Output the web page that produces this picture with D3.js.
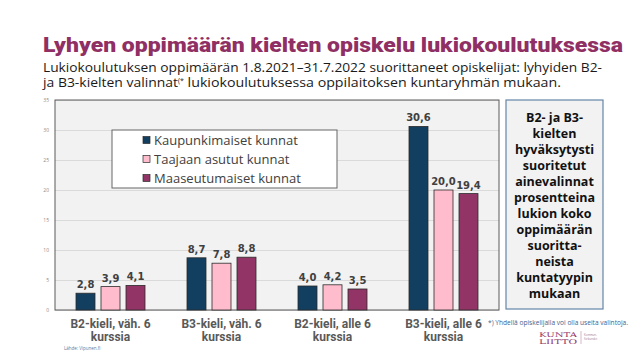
<!DOCTYPE html>
<html lang="fi">
<head>
<meta charset="UTF-8">
<title>Lyhyen oppimäärän kielten opiskelu</title>
<script src="https://d3js.org/d3.v7.min.js"></script>
<style>
  body { margin: 0; background: #fff; }
  svg { display: block; }
</style>
</head>
<body>
<div id="chart"></div>
<script>
// kategoriat ja sarjat
const categories = [["B2-kieli, väh. 6", "kurssia"], ["B3-kieli, väh. 6", "kurssia"], ["B2-kieli, alle 6", "kurssia"], ["B3-kieli, alle 6", "kurssia"]];
const seriesNames = ["Kaupunkimaiset kunnat", "Taajaan asutut kunnat", "Maaseutumaiset kunnat"];
const seriesColors = ["#123f60", "#ffbccd", "#933467"];
const kaupunki = [2.8, 8.7, 4.0, 30.6];
const taajama = [3.9, 7.8, 4.2, 20.0];
const maaseutu = [4.1, 8.8, 3.5, 19.4];
const yTicks = [0, 5, 10, 15, 20, 25, 30, 35];
const sideText = ["B2- ja B3-", "kielten", "hyväksytysti", "suoritetut", "ainevalinnat", "prosentteina", "lukion koko", "oppimäärän", "suoritta-", "neista", "kuntatyypin", "mukaan"];

const W = 643, H = 361;
const svg = d3.select("#chart").append("svg").attr("width", W).attr("height", H);

// otsikko
svg.append("text").attr("x", 43).attr("y", 52)
  .attr("textLength", 580).attr("lengthAdjust", "spacingAndGlyphs")
  .style("font-family", "Roboto, sans-serif").style("font-weight", 900)
  .style("font-size", "20px").style("fill", "#8f2f64")
  .text("Lyhyen oppimäärän kielten opiskelu lukiokoulutuksessa");

svg.append("text").attr("x", 43).attr("y", 72)
  .attr("textLength", 559).attr("lengthAdjust", "spacingAndGlyphs")
  .style("font-family", "'Open Sans', sans-serif").style("font-size", "12.5px").style("fill", "#1a1a1a")
  .text("Lukiokoulutuksen oppimäärän 1.8.2021–31.7.2022 suorittaneet opiskelijat: lyhyiden B2-");
const sub2 = svg.append("text").attr("x", 43).attr("y", 87)
  .style("font-family", "'Open Sans', sans-serif").style("font-size", "12.5px").style("fill", "#1a1a1a");
sub2.append("tspan").attr("textLength", 135).attr("lengthAdjust", "spacingAndGlyphs").text("ja B3-kielten valinnat");
sub2.append("tspan").attr("dy", -4).style("font-size", "7px").text("(*");
sub2.append("tspan").attr("dy", 4).attr("textLength", 377).attr("lengthAdjust", "spacingAndGlyphs")
  .text(" lukiokoulutuksessa oppilaitoksen kuntaryhmän mukaan.");

// kaavioalue
const plot = { left: 55, right: 499, top: 100, bottom: 310 };

const x0 = d3.scaleBand().domain(d3.range(categories.length)).range([plot.left, plot.right]);
const x1 = d3.scaleBand().domain(d3.range(seriesNames.length))
  .range([18, 93]).paddingInner(0.24).paddingOuter(0.12);
const y = d3.scaleLinear().domain([0, 35]).range([plot.bottom, plot.top]);

svg.append("rect").attr("x", plot.left).attr("y", plot.top)
  .attr("width", plot.right - plot.left).attr("height", plot.bottom - plot.top)
  .attr("fill", "#f2f2f2");

const yAxis = svg.append("g").attr("transform", `translate(${plot.left},0)`)
  .call(d3.axisLeft(y).tickValues(yTicks).tickSize(-(plot.right - plot.left)).tickPadding(6));
yAxis.select(".domain").remove();
yAxis.selectAll(".tick line").attr("stroke", "#dadada");
yAxis.selectAll(".tick text").style("font-family", "'Open Sans', sans-serif").style("font-size", "5px").attr("fill", "#8a8a8a");

svg.append("rect").attr("x", plot.left).attr("y", plot.top)
  .attr("width", plot.right - plot.left).attr("height", plot.bottom - plot.top)
  .attr("fill", "none").attr("stroke", "#5a5a5a").attr("stroke-width", 1);

const data = [kaupunki, taajama, maaseutu];
const fmt = v => d3.format(".1f")(v).replace(".", ",");

const groups = svg.selectAll("g.grp").data(categories).join("g")
  .attr("class", "grp").attr("transform", (d, i) => `translate(${x0(i)},0)`);

groups.selectAll("rect").data((d, i) => data.map((s, j) => ({ j, v: s[i] }))).join("rect")
  .attr("x", d => x1(d.j)).attr("width", x1.bandwidth())
  .attr("y", d => y(d.v)).attr("height", d => y(0) - y(d.v))
  .attr("fill", d => seriesColors[d.j]).attr("stroke", "#2b2b2b").attr("stroke-width", 0.8);

groups.selectAll("text.val").data((d, i) => data.map((s, j) => ({ j, v: s[i] }))).join("text")
  .attr("class", "val")
  .attr("x", d => x1(d.j) + x1.bandwidth() / 2).attr("y", d => y(d.v) - 5)
  .attr("text-anchor", "middle")
  .style("font-family", "'DejaVu Sans', sans-serif").style("font-weight", "bold")
  .style("font-size", "10px").attr("fill", "#404040")
  .text(d => fmt(d.v));

// kategorioiden nimet
const catLabels = svg.selectAll("text.cat").data(categories).join("text")
  .attr("class", "cat").attr("text-anchor", "middle")
  .style("font-family", "Roboto, sans-serif").style("font-weight", "bold")
  .style("font-size", "12px").attr("fill", "#595959");
catLabels.selectAll("tspan").data((d, i) => d.map(t => ({ t, i }))).join("tspan")
  .attr("x", d => x0(d.i) + x0.bandwidth() / 2)
  .attr("y", (d, k) => 328 + k * 13)
  .text(d => d.t);

// selite
const lg = svg.append("g");
lg.append("rect").attr("x", 112).attr("y", 130).attr("width", 225).attr("height", 58)
  .attr("fill", "#fff").attr("stroke", "#666").attr("stroke-width", 1);
const items = lg.selectAll("g.item").data(seriesNames).join("g")
  .attr("class", "item").attr("transform", (d, i) => `translate(143,${140 + i * 19})`);
items.append("rect").attr("x", 0).attr("y", -3.5).attr("width", 7).attr("height", 7)
  .attr("fill", (d, i) => seriesColors[i]).attr("stroke", "#2b2b2b").attr("stroke-width", 0.7);
items.append("text").attr("x", 11).attr("y", 4.8)
  .style("font-family", "'Open Sans', sans-serif").style("font-size", "13px").attr("fill", "#404040")
  .text(d => d);

// sivulaatikko
svg.append("rect").attr("x", 506).attr("y", 100).attr("width", 97).attr("height", 209)
  .attr("fill", "#f2f2f2").attr("stroke", "#6486a8").attr("stroke-width", 1.2);
svg.append("text").attr("text-anchor", "middle")
  .style("font-family", "'Open Sans', sans-serif").style("font-weight", "bold")
  .style("font-size", "12.5px").attr("fill", "#111")
  .selectAll("tspan").data(sideText).join("tspan")
  .attr("x", 554.5).attr("y", (d, i) => 122 + i * 16)
  .text(d => d);

// alaviitteet
svg.append("text").attr("x", 488).attr("y", 325)
  .attr("textLength", 140).attr("lengthAdjust", "spacingAndGlyphs")
  .style("font-family", "'Open Sans', sans-serif").style("font-size", "6.5px").attr("fill", "#3d5f92")
  .text("*) Yhdellä opiskelijalla voi olla useita valintoja.");
svg.append("text").attr("x", 64).attr("y", 350)
  .style("font-family", "'Open Sans', sans-serif").style("font-size", "4.5px").attr("fill", "#5a7aa0")
  .text("Lähde: Vipunen.fi");

// logo
const logo = svg.append("g").style("font-family", "'DejaVu Serif', serif").attr("fill", "#8f2f64");
logo.append("text").attr("x", 539).attr("y", 337).style("font-size", "6.5px")
  .attr("textLength", 38).attr("lengthAdjust", "spacingAndGlyphs").text("KUNTA");
logo.append("text").attr("x", 539).attr("y", 344).style("font-size", "6.5px")
  .attr("textLength", 38).attr("lengthAdjust", "spacingAndGlyphs").text("LIITTO");
svg.append("line").attr("x1", 581).attr("x2", 581).attr("y1", 331).attr("y2", 344)
  .attr("stroke", "#b58aa2").attr("stroke-width", 0.6);
svg.append("text").attr("x", 584).attr("y", 336).style("font-family", "'Open Sans', sans-serif")
  .style("font-size", "2.8px").attr("fill", "#a07890").text("Kommun-");
svg.append("text").attr("x", 584).attr("y", 340).style("font-family", "'Open Sans', sans-serif")
  .style("font-size", "2.8px").attr("fill", "#a07890").text("förbundet");
</script>
</body>
</html>
